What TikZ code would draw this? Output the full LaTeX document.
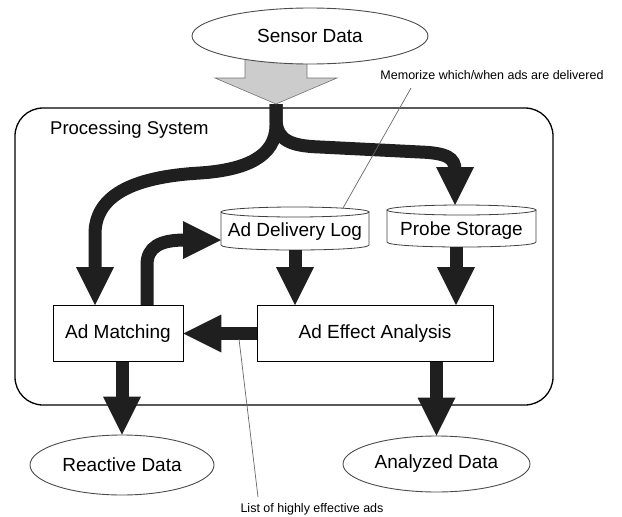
\documentclass[tikz,border=0pt]{standalone}
\usepackage{fontspec}
\setmainfont{Liberation Sans}
\usetikzlibrary{shapes.geometric,calc}
\definecolor{darkfill}{gray}{0.12}
\newcommand\fattipD[1]{\fill[fathead] (#1) -- ++(-19,-38) -- ++(38,0) -- cycle;}
\newcommand\fattipL[1]{\fill[fathead] (#1) -- ++(38,-19) -- ++(0,38) -- cycle;}
\newcommand\fattipR[1]{\fill[fathead] (#1) -- ++(-38,-19) -- ++(0,38) -- cycle;}
\begin{document}
\begin{tikzpicture}[x=1pt,y=-1pt,
  big/.style={font=\fontsize{19}{22}\selectfont},
  small/.style={font=\fontsize{12.5}{15}\selectfont},
  box/.style={draw=black, line width=0.9pt, fill=white, big, inner sep=0pt},
  oval/.style={ellipse, draw=black!70, line width=0.9pt, fill=white, big, inner sep=0pt},
  cylbody/.style={draw=black!75, line width=0.8pt, fill=white},
  fatline/.style={draw=darkfill, line width=13pt},
  fathead/.style={fill=darkfill},
  note/.style={draw=black!60, line width=0.7pt},
]
\useasboundingbox (0,0) rectangle (622,517);

% processing system frame
\node[draw, line width=1.3pt, rounded corners=28pt, minimum width=538pt, minimum height=297pt, inner sep=0pt] (sys) at (284,256.5) {};
\node[big, anchor=west, inner sep=0pt, font=\fontsize{18.5}{22}\selectfont] (syslabel) at (50,130) {Processing System};

% boxes and ellipses
\node[box, minimum width=130pt, minimum height=56pt] (match) at (118,333.5) {Ad Matching};
\node[box, minimum width=236pt, minimum height=56pt] (effect) at (375,333.5) {Ad Effect Analysis};
\node[oval, minimum width=184pt, minimum height=60pt] (react) at (122,465) {Reactive Data};
\node[oval, minimum width=187pt, minimum height=56pt] (anal) at (436.5,464) {Analyzed Data};

% cylinders
\filldraw[cylbody] (221,212) -- (221,245) .. controls (221,251.67) and (369,251.67) .. (369,245) -- (369,212) -- cycle;
\draw[cylbody] (295,212) ellipse [x radius=74, y radius=5];
\node[big, inner sep=0pt] (log) at (295,232) {Ad Delivery Log};
\coordinate (logbot) at (295,250);
\filldraw[cylbody] (387,210) -- (387,242) .. controls (387,248.67) and (536,248.67) .. (536,242) -- (536,210) -- cycle;
\draw[cylbody] (461.5,210) ellipse [x radius=74.5, y radius=5];
\node[big, inner sep=0pt] (probe) at (461.5,231) {Probe Storage};
\coordinate (probebot) at (456,247);

% branches from sensor data
\coordinate (bigtip) at (276,104);
\draw[fatline] (bigtip) -- (276,125) .. controls (276,157) and (245,170) .. (200,173)
  .. controls (130,177) and (95,197) .. (95,234) -- (95,270);
\fattipD{95,305}
\draw[fatline] (bigtip) -- (276,120) .. controls (277,140) and (290,146) .. (320,147)
  -- (420,152) .. controls (447,153) and (455,158) .. (455,170);
\fattipD{455,205}

% big input arrow and sensor data
\filldraw[fill=black!20, draw=black!55, line width=0.6pt] (bigtip) -- (337,78) -- (307,78) -- (307,52) -- (245,52) -- (245,78) -- (215,78) -- cycle;
\node[oval, minimum width=236pt, minimum height=56pt] (sensor) at (310,36) {Sensor Data};

% ad matching -> ad delivery log
\draw[fatline] (147,305) -- (147,265) .. controls (147,247) and (160,240) .. (185,240);
\fattipR{221,240}

% cylinders -> ad effect analysis
\draw[fatline] (logbot) -- ($(effect.north -| logbot)+(0,-36)$);
\fattipD{effect.north -| logbot}
\draw[fatline] (probebot) -- ($(effect.north -| probebot)+(0,-36)$);
\fattipD{effect.north -| probebot}

% ad effect analysis -> ad matching
\draw[fatline] (effect.west) -- ($(match.east)+(36,0)$);
\fattipL{match.east}

% outputs
\draw[fatline] (match.south -| react.north) -- ($(react.north)+(0,-36)$);
\fattipD{react.north}
\draw[fatline] (effect.south -| anal.north) -- ($(anal.north)+(0,-36)$);
\fattipD{anal.north}

% annotations
\node[small, inner sep=0pt] (memo) at (492,75) {Memorize which/when ads are delivered};
\coordinate (memoend) at (411,88);
\coordinate (logtop) at (343,208);
\draw[note] (memoend) -- (logtop);
\node[small, inner sep=0pt] (list) at (312,509) {List of highly effective ads};
\coordinate (listend) at (258,497);
\coordinate (listtop) at (239,339);
\draw[note] (listtop) -- (listend);
\end{tikzpicture}
\end{document}
